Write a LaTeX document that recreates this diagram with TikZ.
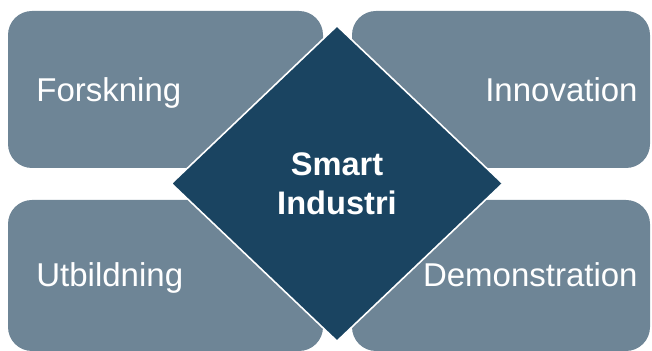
\documentclass[tikz,border=0pt]{standalone}
\usepackage{fontspec}
\setmainfont{Liberation Sans}
\usetikzlibrary{shapes.geometric}

\definecolor{boxgray}{RGB}{110,133,150}
\definecolor{coreblue}{RGB}{26,68,97}

\begin{document}
\begin{tikzpicture}[
    x=0.5pt, y=-0.5pt,
    field/.style={rectangle, rounded corners=12pt, fill=boxgray, draw=none,
        minimum width=#1, minimum height=78.5pt, inner sep=0pt},
    field/.default=157.5pt,
    core/.style={diamond, fill=coreblue, draw=white, line width=0.8pt,
        minimum width=166pt, minimum height=158pt, inner sep=0pt},
    lbl/.style={text=white, inner sep=0pt, font=\fontsize{16.5}{19.5}\selectfont},
    corelbl/.style={lbl, align=center, font=\fontsize{16.3}{19.5}\selectfont\bfseries}
]
\useasboundingbox (0,0) rectangle (652,351);

% Four fields around the core
\node[field] (forskning) at (165.5,89.5) {};
\node[field=149pt] (innovation) at (501,89.5) {};
\node[field, minimum height=75.5pt] (utbildning) at (165.5,275.5) {};
\node[field=149pt, minimum height=75.5pt] (demonstration) at (501,275.5) {};

% Centre diamond
\node[core] (smart) at (337,183.5) {};

% Labels
\node[lbl, anchor=base west] (forskningtxt) at (36,102) {Forskning};
\node[lbl, anchor=base east] (innovationtxt) at (638,102) {Innovation};
\node[lbl, anchor=base west] (utbildningtxt) at (36,287) {Utbildning};
\node[lbl, anchor=base east] (demonstrationtxt) at (638,287) {Demonstration};
\node[corelbl] (smarttxt) at (smart.center) {Smart\\Industri};

\end{tikzpicture}
\end{document}
